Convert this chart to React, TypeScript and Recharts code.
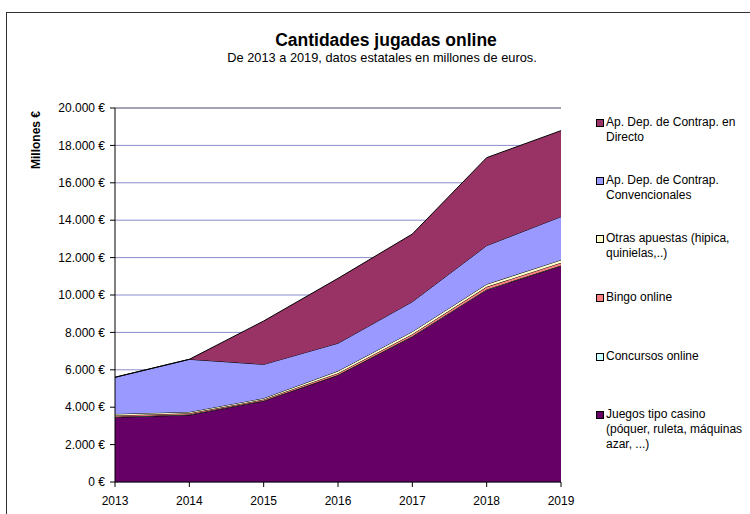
import { Area, AreaChart, CartesianGrid, ReferenceLine, XAxis, YAxis } from 'recharts';

const years = ['2013', '2014', '2015', '2016', '2017', '2018', '2019'];
const casino = [3460, 3580, 4330, 5705, 7770, 10270, 11550];
const concursos = [30, 25, 20, 20, 20, 25, 25];
const bingo = [70, 70, 60, 90, 110, 140, 150];
const otras = [80, 70, 70, 120, 140, 140, 150];
const convencionales = [1960, 2815, 1810, 1485, 1600, 2065, 2315];
const directo = [0, 0, 2320, 3470, 3620, 4705, 4600];
const yTicks = [0, 2000, 4000, 6000, 8000, 10000, 12000, 14000, 16000, 18000, 20000];

const data = years.map((year, i) => ({
  year,
  casino: casino[i],
  concursos: concursos[i],
  bingo: bingo[i],
  otras: otras[i],
  convencionales: convencionales[i],
  directo: directo[i],
}));

// stacked bottom to top
const series = [
  { key: 'casino', color: '#660066' },
  { key: 'concursos', color: '#ccffff' },
  { key: 'bingo', color: '#ff8080' },
  { key: 'otras', color: '#ffffcc' },
  { key: 'convencionales', color: '#9999ff' },
  { key: 'directo', color: '#993366' },
];

// legend, top to bottom
const legendItems = [
  { lines: ['Ap. Dep. de Contrap. en', 'Directo'], color: '#993366', top: 114.5 },
  { lines: ['Ap. Dep. de Contrap.', 'Convencionales'], color: '#9999ff', top: 172.5 },
  { lines: ['Otras apuestas (hipica,', 'quinielas,..)'], color: '#ffffcc', top: 230.5 },
  { lines: ['Bingo online'], color: '#ff8080', top: 289.5 },
  { lines: ['Concursos online'], color: '#ccffff', top: 348.5 },
  { lines: ['Juegos tipo casino', '(póquer, ruleta, máquinas', 'azar, ...)'], color: '#660066', top: 406.5 },
];

const font = '"Liberation Sans", Arial, sans-serif';

function euro(v: number) {
  return String(v).replace(/\B(?=(\d{3})+(?!\d))/g, '.') + ' €';
}

export default function App() {
  return (
    <div style={{ position: 'fixed', left: 0, top: 0, width: 750, height: 514, overflow: 'hidden', background: '#fff', fontFamily: font }}>
      <div style={{ position: 'absolute', left: 6, top: 12, width: 800, height: 600, border: '1.5px solid #333' }} />
      <div style={{ position: 'absolute', left: 0, width: 772, top: 30, lineHeight: '20px', textAlign: 'center', fontSize: 17.5, fontWeight: 'bold' }}>
        Cantidades jugadas online
      </div>
      <div style={{ position: 'absolute', left: 0, width: 764, top: 50, lineHeight: '15px', textAlign: 'center', fontSize: 12.8 }}>
        De 2013 a 2019, datos estatales en millones de euros.
      </div>
      <div style={{ position: 'absolute', left: 0, top: 0 }}>
        <AreaChart width={750} height={514} data={data} margin={{ top: 108, right: 189, bottom: 2, left: 35 }}>
          <CartesianGrid vertical={false} stroke="#8c8ccc" />
          <XAxis
            dataKey="year"
            tick={{ fontSize: 12, fill: '#000', fontFamily: font }}
            tickLine={{ stroke: '#000' }}
            axisLine={{ stroke: '#000' }}
            tickSize={5}
            tickMargin={9}
            height={30}
          />
          <YAxis
            domain={[0, 20000]}
            ticks={yTicks}
            tickFormatter={euro}
            tick={{ fontSize: 12, fill: '#000', fontFamily: font }}
            tickLine={{ stroke: '#000' }}
            axisLine={{ stroke: '#000' }}
            tickSize={5}
            tickMargin={5}
            width={80}
          />
          <YAxis yAxisId="frame" orientation="right" width={0} tick={false} tickLine={false} axisLine={{ stroke: '#808080' }} />
          <ReferenceLine y={20000} stroke="#808080" />
          {series.map((s) => (
            <Area
              key={s.key}
              dataKey={s.key}
              stackId="1"
              type="linear"
              stroke="#000"
              strokeWidth={1}
              fill={s.color}
              fillOpacity={1}
              isAnimationActive={false}
            />
          ))}
        </AreaChart>
      </div>
      <div
        style={{
          position: 'absolute',
          left: 36,
          top: 140,
          transform: 'translate(-50%, -50%) rotate(-90deg)',
          fontSize: 12,
          fontWeight: 'bold',
          whiteSpace: 'nowrap',
        }}
      >
        Millones €
      </div>
      {legendItems.map((item) => (
        <div key={item.color} style={{ position: 'absolute', left: 596, top: item.top, fontSize: 12, lineHeight: '15px' }}>
          <div style={{ position: 'absolute', left: 0, top: 4, width: 6, height: 6, border: '1px solid #000', background: item.color }} />
          <div style={{ marginLeft: 10, whiteSpace: 'nowrap' }}>
            {item.lines.map((l) => (
              <div key={l}>{l}</div>
            ))}
          </div>
        </div>
      ))}
    </div>
  );
}
